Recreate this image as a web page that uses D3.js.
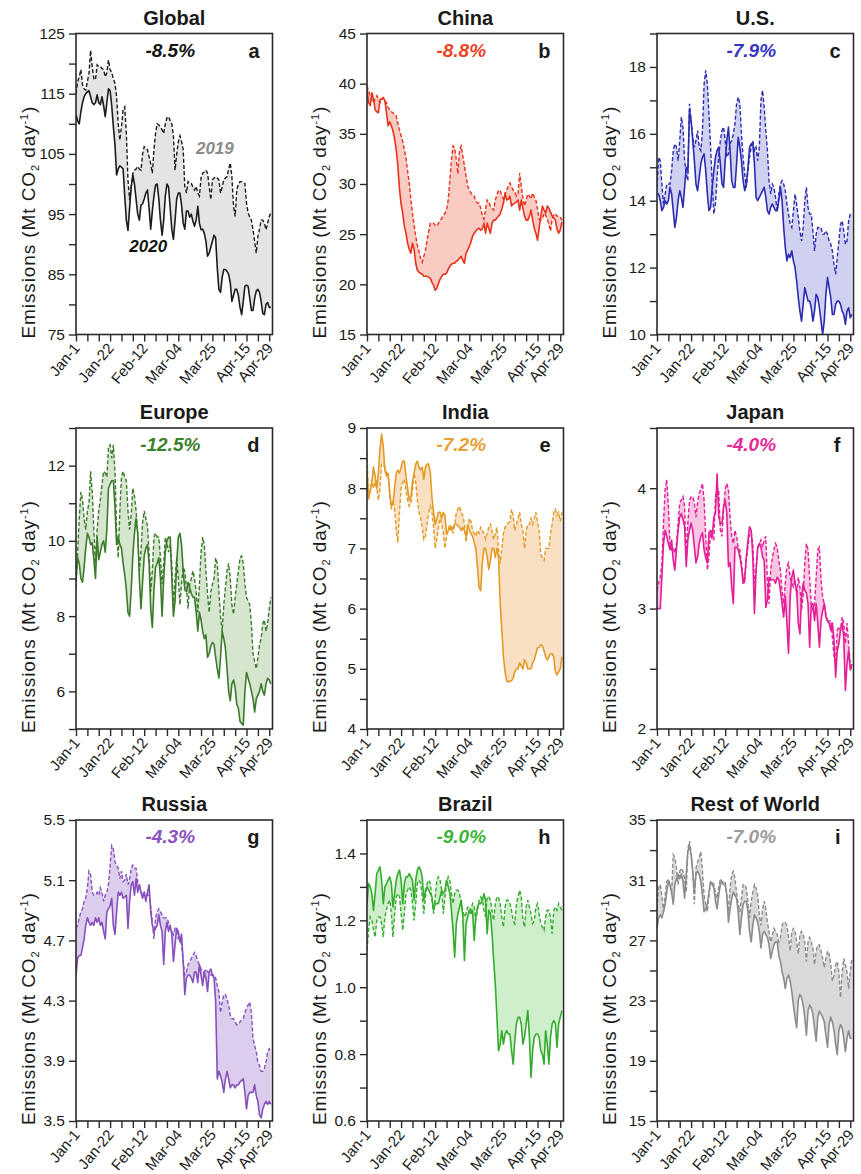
<!DOCTYPE html>
<html><head><meta charset="utf-8">
<script src="https://cdn.jsdelivr.net/npm/d3@7"></script>
<style>
body{margin:0;background:#fff}
text{font-family:"Liberation Sans",Arial,Helvetica,sans-serif;fill:#1a1a1a}
</style>
</head><body>
<svg id="chart" width="861" height="1174"></svg>
<script>
// ---------- axis categories ----------
const tickDays = [0,7,14,21,28,35,42,49,56,63,70,77,84,91,98,105,112,119];
const tickLabels = {0:"Jan-1",21:"Jan-22",42:"Feb-12",63:"Mar-04",84:"Mar-25",105:"Apr-15",119:"Apr-29"};

// ---------- daily emissions, Jan-1 .. Apr-30 (Mt CO2/day) ----------
const global2020 = [111.5,110.5,110,112,113.5,114.5,115,115.3,115.5,114.5,
113.5,113.2,113.5,114.8,113.5,113.2,114.5,113,111.2,113.5,
115.8,115.5,113,109.5,106.5,101.5,102.5,103,102.8,102.5,
98,94,92.3,96,99.5,101.5,100,97.5,95,94,
96.5,96.7,97.5,98.5,99,96,92.5,95.5,98,99.8,
100,97.5,94,91.5,94,98,100,99.5,96,92.5,
90.8,94,97.5,98.5,98.5,96.5,93.5,92.5,95.5,95.5,
94.5,95,93.8,93,94,96.3,93.5,92.4,92.5,91.8,
90.5,88,88.5,89.5,90.5,91.5,91,86,82.5,82,
84.5,85.8,85.8,85.5,85,83.6,80.5,81.5,82.5,82.5,
81.5,79.5,78.3,80.5,83,83.2,83,81,79,79,
81,82.2,82.5,82,80.5,78.5,78.3,80,80.3,79.5,
79.5];
const global2019 = [115,117,117.8,119,116.5,115.8,115.6,
117,118.4,122.2,119.5,117.5,117.3,119.8,
119.5,119.5,119.2,119,117.8,118.5,120.6,
119,118.5,117.5,116.7,114.5,110,107.3,
109.5,112.3,112.8,108.4,100.7,97.4,99.5,
101.8,102.3,102.5,102.9,102.5,102.3,105,
106.2,106,105.7,104.5,103.4,101.8,105.7,
108.5,110,109.8,109.5,109,108.4,110,
111,111.2,110.5,110,108,102.3,105,
107,108,107,105.7,99.6,98.5,100.4,
100.2,100.1,99.5,99,99.6,98.5,98,
101,101.8,102,102.3,101.8,99.6,97.4,
100.7,101,101.2,101,100.7,98.5,99.5,
100.7,101,101.2,102.5,103.5,101.2,96.3,
94.6,99,100,100.4,100.4,100.2,100.1,
96.8,95.2,94.5,94,92.4,90.5,88.5,
91.3,92.5,94,94,93.5,92.4,93.5,
94.6,95.2];

const china2020 = [39.4,38.1,37.8,39.1,38.5,37.4,37.2,37.1,38.4,38.5,
38.6,38.3,37.1,35.8,36.2,35.8,35.3,34.5,33.4,31.8,
29.5,28,27.1,25.8,25.1,24.1,23.5,23.1,24.1,23.5,
22.1,21.4,21.2,21.1,21,20.8,20.8,20.8,20.7,20.6,
20.2,19.9,19.4,19.6,20.1,20.5,20.8,21,21,21.1,
21.5,21.8,22,22.1,22.1,22.3,22.4,22.6,22.8,22.4,
22.1,23.1,23.4,23.8,24.2,24.8,25.1,25.3,25.5,25.6,
25.4,25.5,26.1,25.1,26.1,25.6,25.1,26.1,26.4,26.4,
26.6,26.8,27,27.5,28.1,29.1,28.4,28.5,28.8,27.8,
28,28.1,28.2,28.4,27.4,28.4,27.6,26.8,26.4,26.4,
26.8,27.4,26.4,25.6,25.1,24.4,25.6,26.8,27.8,27.4,
27.1,27.8,27.6,27.2,26.8,26.6,26.4,25.5,25.1,25.4,
26.2];
const china2019 = [39.8,39.3,38.8,38.4,38.1,38.5,38.8,38.5,38.1,38.3,
38.6,38.3,38.1,37.6,37.4,37.2,37.1,36.9,36.8,36,
35.4,34.8,34.2,33.4,32.6,31.3,30.1,28.5,27.1,25.9,
24.8,23.9,23.3,22.6,22.2,22.8,23.4,24.4,25.3,26.1,
26.1,26.1,25.9,25.8,26.1,26.3,26.6,26.8,27.1,27.4,
28.4,30.4,32.4,33.8,33.6,32.4,31,33.4,33.8,32.8,
31.8,30.8,29.8,29.4,29.1,28.9,28.8,28.3,28.1,28.1,
27.6,26.9,26.5,27.5,28.4,28.2,27.8,27.6,27.4,28.4,
28.9,29.4,29.3,28.9,28.5,29,29.4,29.8,30.1,29.7,
29.4,29.2,28.8,29,31.1,29.8,28.6,27.8,28.4,29,
28.8,28.5,29.1,28.7,28.4,27.5,26.5,26.4,26.5,27.1,
26.9,26.5,26,25.3,26.5,27,27,26.8,26.8,26.7,
26.4];

const us2020 = [14.2,14.2,14.0,13.7,13.8,14.0,13.9,14.0,14.4,14.2,
13.7,13.2,13.5,14.0,14.3,14.1,13.8,14.4,15.0,14.9,
16.7,16.4,15.8,15.2,14.5,14.3,14.7,15.1,15.3,15.4,
14.9,14.2,13.7,13.8,14.4,14.9,15.3,15.5,15.6,15.1,
14.5,14.4,15.2,15.8,16.2,15.5,14.6,14.4,14.4,15.1,
15.9,15.6,15.2,14.6,14.3,14.5,15.0,15.6,15.7,15.7,
15.1,14.1,14.0,14.1,14.2,14.3,14.4,14.1,13.7,13.6,
13.8,13.9,13.8,13.7,13.7,14.0,14.4,14.0,13.2,12.6,
12.2,12.4,12.3,12.5,12.2,12.0,11.6,11.1,10.7,10.4,
10.9,11.4,11.2,11.0,11.0,10.8,10.4,10.7,11.2,11.1,
10.8,10.4,10.0,10.4,11.2,11.7,11.4,11.1,10.6,10.6,
10.9,11.0,11.0,10.9,10.7,10.6,10.3,10.7,10.8,10.5,
10.6];
const us2019 = [14.4,15.3,15.2,14.5,13.9,14.2,14.5,14.5,14.5,14.9,
15.5,15.7,15.6,15.2,15.8,16.5,16.2,15.2,14.8,14.6,
16.9,16.4,15.9,15.6,15.8,16.1,15.6,15.5,16.1,17.5,
17.9,17.5,16.6,15.6,14.5,13.6,13.9,14.7,15.3,15.8,
16.1,16.2,15.8,15.3,15.4,15.7,15.8,16.0,16.3,16.9,
17.1,16.9,16.0,15.3,14.8,14.4,14.9,15.3,15.6,15.8,
15.5,15.6,15.2,15.6,17.0,17.3,16.8,16.1,15.5,14.6,
14.2,14.5,14.4,14.1,13.7,14.2,14.5,14.6,14.5,14.3,
13.9,13.6,13.3,13.2,13.7,14.2,13.9,13.5,13.1,12.8,
13.2,14.0,14.4,13.8,13.6,13.6,13.1,12.5,13.0,13.2,
13.2,13.2,13.0,13.0,13.1,13.0,12.8,12.7,12.5,12.1,
11.8,12.3,12.8,13.3,13.4,13.1,12.7,12.8,13.4,13.6,
13.6];

const europe2020 = [9.0,9.55,9.4,9.0,8.9,9.3,9.8,10.2,10.1,9.9,
9.95,9.5,9.0,10.1,9.5,9.7,9.9,10.0,9.7,10.3,
11.4,11.5,11.6,11.6,10.9,9.9,10.1,9.9,9.8,9.4,
9.1,8.7,8.1,8.0,8.7,9.6,10.2,10.6,10.2,9.0,8.2,
8.9,9.6,9.8,9.9,9.4,8.2,7.7,8.7,9.3,9.4,
9.55,9.0,8.0,9.0,9.7,10.0,10.1,10.1,9.0,8.0,
8.4,9.4,10.1,10.2,9.9,9.2,8.7,8.65,8.9,8.75,
8.6,8.5,8.5,8.1,7.6,8.1,7.9,7.6,7.4,7.5,6.9,
7.0,7.2,7.3,7.25,6.9,6.6,6.35,6.9,7.6,7.4,
7.15,6.6,6.0,5.75,6.2,6.3,6.1,5.65,5.55,5.2,
5.15,5.1,6.0,6.5,6.35,6.2,6.0,5.8,5.45,5.8,5.9,
6.0,6.2,6.0,5.9,6.2,6.35,6.3,6.2];
const europe2019 = [8.75,9.7,10.6,11.3,11.1,10.6,10.3,10.8,11.0,11.85,
11.3,10.3,9.4,10.3,10.8,11.1,11.5,11.85,11.8,11.7,
12.5,12.55,12.2,12.55,11.85,10.3,9.55,10.8,11.7,11.85,
11.7,11.6,10.8,10.3,10.7,11.4,11.2,10.8,10.2,9.2,9.7,
10.5,10.8,10.6,10.4,9.7,8.65,9.2,10.1,10.2,10.1,
10.1,9.55,8.85,9.4,10.1,9.9,9.7,9.9,9.4,8.2,
9.0,9.55,9.0,8.3,8.85,9.3,9.2,8.75,8.2,8.85,
9.0,9.2,9.0,8.65,8.1,8.85,9.7,10.1,9.9,9.2,8.6,
8.1,8.65,8.85,9.0,9.55,9.4,8.65,8.0,7.6,8.3,
8.75,9.2,9.4,9.0,8.3,8.05,8.5,8.85,9.2,9.55,
9.6,9.4,8.85,8.5,8.4,8.3,7.8,7.0,6.8,6.6,6.9,
7.25,7.4,7.8,7.9,7.6,7.8,8.2,8.5];

const india2020 = [8.25,7.85,7.95,8.1,8.35,8.2,8.0,8.25,8.65,8.9,
8.7,8.3,8.2,8.25,7.95,7.7,7.75,8.0,8.25,8.3,
8.25,8.35,8.45,8.45,8.2,8.0,
7.8,7.85,8.1,8.25,8.4,8.45,8.35,8.3,8.35,8.15,
8.35,8.4,8.4,8.25,7.85,7.6,7.4,7.5,7.6,7.6,
7.5,7.6,7.55,7.25,7.3,7.35,7.3,7.35,7.4,7.4,7.38,
7.35,7.3,7.35,7.3,7.2,7.4,7.3,7.25,7.2,7.1,
7.0,6.7,6.35,6.3,6.75,7.0,7.0,6.85,6.65,6.8,
7.0,7.0,6.85,7.0,6.85,6.1,5.65,5.2,4.95,4.8,4.78,
4.8,4.8,4.85,4.95,5.0,5.0,5.1,5.05,5.0,5.15,
5.1,5.0,5.0,5.0,5.1,5.15,5.25,5.35,5.35,5.4,5.38,
5.3,5.2,5.15,5.2,5.25,5.25,5.2,4.95,4.9,4.95,5.0,5.2];
const india2019 = [8.6,7.8,8.0,8.1,8.0,8.1,8.0,7.8,8.0,8.4,
8.4,8.35,8.25,8.2,7.85,7.65,7.8,7.65,7.3,7.1,
7.6,8.0,8.1,8.15,7.95,7.8,
7.7,7.75,7.95,8.25,8.1,7.8,7.6,7.5,7.35,7.15,
7.2,7.4,7.6,7.7,7.6,7.35,7.0,7.15,7.35,7.5,
7.4,7.25,7.0,7.2,7.3,7.4,7.35,7.25,7.4,7.6,7.65,
7.7,7.6,7.55,7.4,7.1,7.3,7.5,7.45,7.3,7.25,
7.2,7.3,7.25,7.35,7.3,7.25,7.15,7.25,7.35,7.4,
7.3,7.15,7.25,7.35,7.0,6.75,7.0,7.25,7.35,7.4,7.42,
7.45,7.65,7.55,7.3,7.4,7.5,7.6,7.4,7.3,7.0,
7.3,7.4,7.4,7.5,7.4,7.5,7.6,7.45,7.3,6.9,6.85,
6.8,7.0,7.0,7.0,7.25,7.4,7.6,7.65,7.55,7.6,7.45,7.6];

const japan2020 = [3.0,3.0,3.0,3.26,3.54,3.65,3.6,3.54,3.49,3.57,
3.4,3.32,3.49,3.65,3.76,3.79,3.74,3.68,3.35,3.57,
3.65,3.71,3.65,3.51,3.38,3.43,3.54,3.6,3.63,3.49,3.42,
3.38,3.63,3.65,3.6,3.76,3.79,4.12,3.76,3.71,3.71,
3.85,3.9,3.79,3.35,3.38,3.18,3.04,3.51,3.51,3.49,
3.43,3.35,3.21,3.26,3.43,3.57,3.68,3.65,3.43,2.96,
3.32,3.51,3.54,3.51,3.43,3.4,3.01,3.07,3.26,3.24,3.24,
3.24,3.21,3.26,3.24,3.15,3.04,2.93,3.1,2.88,2.63,
3.1,3.26,3.32,3.21,3.15,2.88,2.79,3.1,3.21,3.15,
3.13,3.04,2.68,3.04,3.04,2.9,3.04,2.88,2.68,2.9,2.98,
3.04,2.93,2.9,2.88,2.82,2.88,2.74,2.43,2.65,2.71,
2.82,2.88,2.76,2.32,2.54,2.65,2.49,2.54];
const japan2019 = [3.15,3.21,3.26,3.38,3.71,3.99,4.07,3.85,3.54,3.49,
3.51,3.46,3.54,3.71,3.88,3.9,3.93,3.85,3.43,3.71,
3.9,3.93,3.93,3.88,3.76,3.88,3.96,3.99,4.04,3.9,3.6,
3.32,3.43,3.65,3.57,3.57,3.93,4.0,3.99,3.65,3.6,
3.82,3.99,4.04,3.99,3.76,3.6,3.54,3.65,3.6,3.51,
3.49,3.38,3.26,3.21,3.4,3.51,3.63,3.63,3.54,3.21,
3.32,3.49,3.54,3.57,3.51,3.57,3.6,3.21,3.04,3.32,3.42,
3.49,3.54,3.51,3.4,3.32,3.15,3.04,3.21,3.35,3.38,
3.26,3.21,3.18,3.24,3.1,3.26,3.18,2.99,3.1,3.38,
3.54,3.49,3.26,3.04,2.99,3.04,3.26,3.49,3.51,3.24,3.1,
3.04,2.96,2.88,2.9,2.9,2.76,2.6,2.54,2.82,2.85,
2.82,2.93,2.88,2.71,2.88,2.71,2.54,2.49];

const russia2020 = [4.47,4.58,4.6,4.6,4.65,4.71,4.8,4.85,4.82,4.8,
4.82,4.8,4.85,4.82,4.85,4.8,4.82,4.76,4.71,4.89,
4.91,4.93,4.98,4.8,4.74,4.89,5.02,5.0,5.02,4.98,4.99,
5.0,4.78,4.96,5.07,5.09,5.0,5.11,5.02,5.07,5.02,
4.98,5.02,4.96,5.02,5.07,4.89,4.8,4.76,4.78,4.8,
4.87,4.8,4.76,4.54,4.76,4.82,4.76,4.8,4.74,4.56,
4.67,4.78,4.76,4.69,4.74,4.56,4.34,4.45,4.47,4.47,4.45,
4.42,4.49,4.49,4.42,4.54,4.47,4.4,4.49,4.45,4.36,
4.49,4.51,4.47,4.45,4.29,3.78,3.83,3.8,3.76,3.69,
3.78,3.83,3.78,3.72,3.74,3.74,3.72,3.74,3.74,3.76,3.77,
3.78,3.69,3.58,3.67,3.69,3.69,3.69,3.74,3.67,3.63,
3.54,3.52,3.58,3.61,3.63,3.61,3.63,3.61];
const russia2019 = [4.78,4.8,4.85,4.89,4.91,4.96,4.98,5.05,5.16,5.14,
5.02,5.0,5.0,5.02,5.0,5.05,5.02,4.96,5.0,5.02,
5.07,5.2,5.33,5.31,5.22,5.2,5.18,5.11,5.16,5.09,5.1,
5.14,5.07,5.11,5.18,5.2,5.18,5.18,5.09,5.07,5.02,
5.0,5.02,5.0,5.0,5.0,4.93,4.82,4.71,4.85,4.89,
4.91,4.89,4.87,4.85,4.85,4.85,4.82,4.78,4.76,4.74,
4.78,4.76,4.71,4.71,4.67,4.56,4.47,4.49,4.54,4.56,4.58,
4.6,4.62,4.6,4.56,4.54,4.51,4.49,4.49,4.51,4.49,
4.49,4.47,4.47,4.47,4.45,4.4,4.36,4.22,4.29,4.34,
4.34,4.31,4.27,4.2,4.18,4.18,4.16,4.14,4.14,4.16,4.17,
4.18,4.22,4.25,4.27,4.29,4.22,4.05,4.0,3.96,3.89,
3.87,3.83,3.83,3.85,3.89,3.96,3.98,3.96];

const brazil2020 = [1.25,1.31,1.3,1.28,1.23,1.28,1.34,1.35,1.36,1.32,
1.25,1.3,1.31,1.32,1.33,1.31,1.24,1.28,1.32,1.34,
1.35,1.32,1.25,1.31,1.33,1.33,
1.34,1.33,1.32,1.26,1.32,1.35,1.36,1.35,1.33,1.26,
1.29,1.3,1.29,1.28,1.27,1.23,1.25,1.25,1.25,1.27,
1.29,1.28,1.29,1.32,1.3,1.28,1.23,1.17,1.09,1.19,1.22,
1.24,1.26,1.21,1.08,1.19,1.21,1.23,1.22,1.23,1.14,
1.21,1.24,1.25,1.25,1.26,1.28,1.26,1.16,1.23,1.22,
1.16,1.08,1.01,0.91,0.81,0.83,0.87,0.83,0.86,0.87,0.86,
0.86,0.81,0.77,0.84,0.89,0.91,0.91,0.89,0.83,0.85,
0.89,0.93,0.85,0.73,0.81,0.85,0.86,0.86,0.85,0.81,0.8,
0.77,0.87,0.83,0.77,0.85,0.89,0.9,0.89,0.82,0.89,0.91,0.93];
const brazil2019 = [1.11,1.17,1.21,1.2,1.17,1.15,1.2,1.21,1.21,1.19,
1.15,1.21,1.23,1.25,1.26,1.22,1.15,1.22,1.27,1.28,
1.27,1.22,1.17,1.22,1.28,1.29,
1.3,1.29,1.25,1.2,1.25,1.31,1.32,1.31,1.27,1.22,
1.27,1.31,1.32,1.31,1.26,1.22,1.27,1.32,1.33,1.32,
1.29,1.22,1.27,1.31,1.33,1.32,1.28,1.25,1.28,1.29,1.29,
1.28,1.25,1.23,1.21,1.22,1.24,1.24,1.23,1.25,1.24,
1.2,1.23,1.26,1.27,1.26,1.23,1.21,1.27,1.27,1.26,
1.23,1.2,1.25,1.27,1.27,1.25,1.21,1.18,1.24,1.26,1.26,
1.25,1.23,1.2,1.19,1.25,1.27,1.29,1.27,1.2,1.18,
1.24,1.26,1.24,1.22,1.19,1.2,1.24,1.25,1.22,1.19,1.18,
1.17,1.21,1.23,1.23,1.21,1.16,1.23,1.24,1.23,1.25,1.24,1.23];

const row2020 = [27.8,28.5,28.7,28.5,28.9,29.4,30.2,30.9,30.7,30.2,
29.4,30.7,31.1,31.4,31.1,31.4,30.9,29.8,31.4,32.9,
33.3,32.7,31.6,30.2,31.4,31.6,31.4,30.9,30.0,28.9,29.1,
29.4,30.2,30.9,30.7,30.5,29.6,29.1,30.0,30.7,30.9,
30.7,30.7,30.0,28.2,29.1,29.8,30.2,30.0,29.8,28.9,
27.4,28.5,29.4,29.6,29.6,28.9,27.6,26.9,28.0,28.7,
28.5,28.2,27.6,26.5,27.4,27.6,27.4,27.2,26.7,25.8,26.3,
26.7,26.9,26.9,26.0,25.6,24.9,24.5,23.8,24.5,24.7,
24.3,23.6,22.7,21.9,21.2,23.0,23.4,23.2,22.7,21.9,
20.7,22.3,22.7,22.5,22.1,21.2,20.3,21.9,22.3,22.1,21.9,
21.6,20.7,19.9,21.4,21.9,21.6,21.0,20.1,19.4,21.0,
21.4,21.2,20.5,19.6,20.5,21.0,20.5,20.5];
const row2019 = [29.1,30.5,30.7,30.0,28.9,30.0,30.9,31.1,30.7,30.2,
32.7,32.5,31.8,30.7,31.6,31.8,31.6,31.1,30.2,33.1,
33.6,32.9,31.6,29.4,31.8,32.2,32.5,32.9,31.6,30.0,29.4,
28.9,30.0,30.9,30.9,30.7,30.2,29.8,30.5,31.1,30.9,
30.9,30.9,30.0,28.9,30.5,31.4,31.6,31.1,30.2,29.4,
28.9,29.8,30.7,30.7,30.5,29.6,28.5,29.6,30.2,30.7,
30.5,30.0,28.7,28.0,29.1,29.6,29.1,28.2,27.6,26.9,27.3,
27.8,27.6,27.4,26.9,27.2,28.0,28.2,28.2,28.0,27.2,
26.3,27.6,27.8,27.6,26.9,26.1,27.4,27.6,27.4,26.9,
25.6,26.9,27.2,26.9,26.5,25.4,26.3,26.7,26.7,26.3,25.8,
25.2,25.8,26.3,26.1,25.4,24.3,24.7,25.4,25.6,24.9,
23.2,24.9,25.8,25.4,24.9,23.8,24.9,25.8];

// ---------- per-panel titles, changes, y ticks ----------
const titles = ["Global","China","U.S.","Europe","India","Japan","Russia","Brazil","Rest of World"];
const letters = ["a","b","c","d","e","f","g","h","i"];
const changes = ["-8.5%","-8.8%","-7.9%","-12.5%","-7.2%","-4.0%","-4.3%","-9.0%","-7.0%"];
const yDomains = [[75,125],[15,45],[10,19],[5,13],[4,9],[2,4.5],[3.5,5.5],[0.6,1.5],[15,35]];
const yTickVals = [
  [75,80,85,90,95,100,105,110,115,120,125],
  [15,20,25,30,35,40,45],
  [10,11,12,13,14,15,16,17,18,19],
  [5,6,7,8,9,10,11,12,13],
  [4,4.5,5,5.5,6,6.5,7,7.5,8,8.5,9],
  [2,2.5,3,3.5,4,4.5],
  [3.5,3.9,4.3,4.7,5.1,5.5],
  [0.6,0.7,0.8,0.9,1.0,1.1,1.2,1.3,1.4,1.5],
  [15,17,19,21,23,25,27,29,31,33,35]];
const yTickLabelVals = [
  [75,85,95,105,115,125],
  [15,20,25,30,35,40,45],
  [10,12,14,16,18],
  [6,8,10,12],
  [4,5,6,7,8,9],
  [2,3,4],
  [3.5,3.9,4.3,4.7,5.1,5.5],
  [0.6,0.8,1.0,1.2,1.4],
  [15,19,23,27,31,35]];
const series2019 = [global2019,china2019,us2019,europe2019,india2019,japan2019,russia2019,brazil2019,row2019];
const series2020 = [global2020,china2020,us2020,europe2020,india2020,japan2020,russia2020,brazil2020,row2020];

// ---------- styles ----------
const lineColors = ["#1c1c1c","#e8321e","#2c2cb2","#3b7b2b","#e49a26","#e41e96","#8750bd","#34ad2e","#8c8c8c"];
const fillColors = ["#e4e4e4","#f9cbc2","#d0d1f0","#d5e5ce","#f9e0c2","#f8c6e4","#ddcdec","#cfeecb","#d9d9d9"];
const textColors = ["#111111","#ec4425","#3535c4","#3a7f2a","#e8a030","#e8299a","#8a52c0","#3bb536","#9a9a9a"];
const decimals = [0,0,0,0,0,0,1,1,0];

const colX = [76, 367, 657], rowY = [33.5, 428, 820];
const W = 196.5, H = 301;

const svg = d3.select("#chart");

titles.forEach((title, i) => {
  const left = colX[i % 3], top = rowY[Math.floor(i / 3)];
  const v19 = series2019[i], v20 = series2020[i];
  const x = d3.scaleLinear().domain([0, 121]).range([left, left + W]);
  const y = d3.scaleLinear().domain(yDomains[i]).range([top + H, top]);
  const g = svg.append("g");

  const clipId = "clip" + i;
  svg.append("clipPath").attr("id", clipId).append("rect")
    .attr("x", left).attr("y", top).attr("width", W).attr("height", H);

  const plot = g.append("g").attr("clip-path", `url(#${clipId})`);
  const idx = d3.range(v20.length);
  plot.append("path").datum(idx)
    .attr("fill", fillColors[i])
    .attr("d", d3.area().x(d => x(d)).y0(d => y(v19[d])).y1(d => y(v20[d])));
  plot.append("path").datum(idx)
    .attr("fill", "none").attr("stroke", lineColors[i]).attr("stroke-width", 1.4)
    .attr("stroke-dasharray", "4,2.2")
    .attr("d", d3.line().x(d => x(d)).y(d => y(v19[d])));
  plot.append("path").datum(idx)
    .attr("fill", "none").attr("stroke", lineColors[i]).attr("stroke-width", 1.6)
    .attr("stroke-linejoin", "round")
    .attr("d", d3.line().x(d => x(d)).y(d => y(v20[d])));

  // axes
  const fmt = decimals[i] ? d3.format(".1f") : d3.format("d");
  const labelSet = new Set(yTickLabelVals[i].map(v => v.toFixed(2)));
  const yAxis = g.append("g").attr("transform", `translate(${left},0)`)
    .call(d3.axisLeft(y).tickValues(yTickVals[i]).tickSize(7).tickPadding(4)
      .tickFormat(v => labelSet.has((+v).toFixed(2)) ? fmt(v) : ""));
  const xAxis = g.append("g").attr("transform", `translate(0,${top + H})`)
    .call(d3.axisBottom(x).tickValues(tickDays).tickSize(7)
      .tickFormat(d => tickLabels[d] || ""));
  [yAxis, xAxis].forEach(a => {
    a.select(".domain").remove();
    a.selectAll(".tick line").attr("stroke", "#2a2a2a").attr("stroke-width", 1.4);
    a.selectAll("text").attr("fill", "#1a1a1a").style("font-family", "'Liberation Sans',Arial,sans-serif");
  });
  yAxis.selectAll("text").style("font-size", "15.5px");
  xAxis.selectAll("text").style("font-size", "15px")
    .attr("y", 0).attr("dy", 0).attr("text-anchor", "end")
    .attr("transform", "translate(4,14) rotate(-50)");

  // frame
  g.append("rect").attr("x", left).attr("y", top).attr("width", W).attr("height", H)
    .attr("fill", "none").attr("stroke", "#2a2a2a").attr("stroke-width", 1.6);

  // title / change / letter
  g.append("text").attr("x", left + W / 2).attr("y", top - 9)
    .attr("text-anchor", "middle").style("font-size", "20px").style("font-weight", "bold")
    .text(title);
  g.append("text").attr("x", left + W / 2 - 4).attr("y", top + 23)
    .attr("text-anchor", "middle").style("font-size", "19px").style("font-weight", "bold")
    .style("font-style", "italic").style("fill", textColors[i]).text(changes[i]);
  g.append("text").attr("x", left + W - 13).attr("y", top + 24)
    .attr("text-anchor", "end").style("font-size", "20px").style("font-weight", "bold")
    .text(letters[i]);

  // y label
  const yl = g.append("text")
    .attr("transform", `translate(${left - 41},${top + H + 4}) rotate(-90)`)
    .attr("text-anchor", "start").style("font-size", "19px").style("letter-spacing", "0.9px");
  yl.append("tspan").text("Emissions (Mt CO");
  yl.append("tspan").attr("dy", 4).style("font-size", "11px").text("2");
  yl.append("tspan").attr("dy", -4).text(" day");
  yl.append("tspan").attr("dy", -7).style("font-size", "11px").text("-1");
  yl.append("tspan").attr("dy", 7).text(")");

  if (i === 0) {
    g.append("text").attr("x", x(85.5)).attr("y", y(105))
      .attr("text-anchor", "middle").style("font-size", "17px").style("font-weight", "bold")
      .style("font-style", "italic").style("fill", "#8a8a8a").text("2019");
    g.append("text").attr("x", x(44.5)).attr("y", y(88.7))
      .attr("text-anchor", "middle").style("font-size", "17px").style("font-weight", "bold")
      .style("font-style", "italic").style("fill", "#111").text("2020");
  }
});
</script>
</body></html>
